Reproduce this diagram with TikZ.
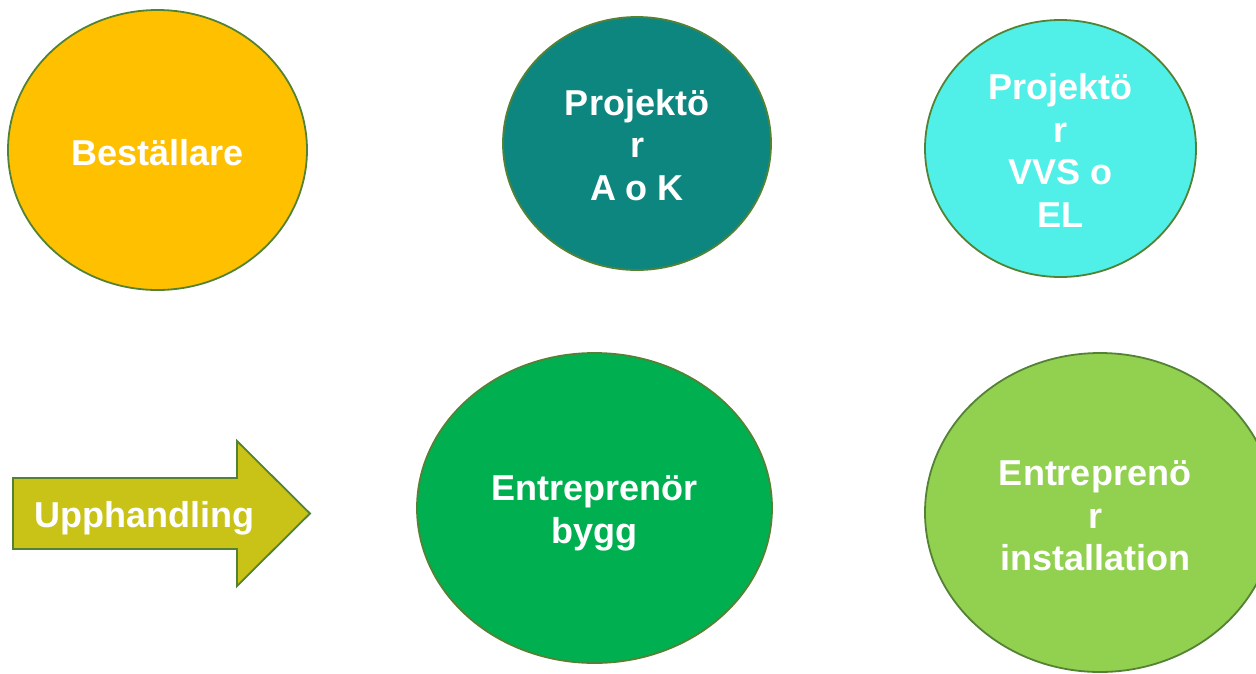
\documentclass[tikz,border=0pt]{standalone}
\usepackage{fontspec}
\setmainfont{Liberation Sans}
\usetikzlibrary{shapes.geometric}
\definecolor{rim}{HTML}{548235}
\definecolor{gold}{HTML}{FFC000}
\definecolor{tealc}{HTML}{0E8680}
\definecolor{cyanc}{HTML}{50F0E8}
\definecolor{greenc}{HTML}{00B050}
\definecolor{limec}{HTML}{92D050}
\definecolor{olivec}{HTML}{C9C317}
\tikzset{
  bubble/.style={ellipse, draw=rim, line width=1.8pt, inner sep=0pt},
  lbl/.style={text=white, inner sep=0pt, align=center,
    font=\fontsize{36}{42.5}\selectfont\bfseries}
}
\begin{document}
\begin{tikzpicture}[x=1pt,y=-1pt]
\useasboundingbox (0,0) rectangle (1256,673);
\clip (0,0) rectangle (1256,673);
\node[bubble, fill=gold, minimum width=299pt, minimum height=280pt] (best) at (157.5,150) {};
\node[lbl] (bestt) at ([yshift=-3pt]best.center) {Beställare};
\node[bubble, fill=tealc, minimum width=268pt, minimum height=253pt] (proj) at (637,143.5) {};
\node[lbl] (projt) at ([yshift=-1.5pt]proj.center) {Projektö\\r\\A o K};
\node[bubble, fill=cyanc, minimum width=271pt, minimum height=257pt] (vvs) at (1060.5,148.5) {};
\node[lbl] (vvst) at ([yshift=-2pt]vvs.center) {Projektö\\r\\VVS o\\EL};
\node[bubble, fill=greenc, minimum width=355pt, minimum height=310pt] (bygg) at (594.5,508) {};
\node[lbl] (byggt) at ([yshift=-5.5pt]bygg.center) {Entreprenör\\bygg};
\node[bubble, fill=limec, minimum width=350pt, minimum height=319pt] (inst) at (1100,512.5) {};
\node[lbl] (instt) at (1095,516) {Entreprenö\\r\\installation};
\draw[draw=rim, line width=1.8pt, fill=olivec, line join=miter]
  (13,478) -- (237,478) -- (237,441) -- (310,513.5) -- (237,586) -- (237,549) -- (13,549) -- cycle;
\node[lbl] (upph) at (144,518) {Upphandling};
\end{tikzpicture}
\end{document}
